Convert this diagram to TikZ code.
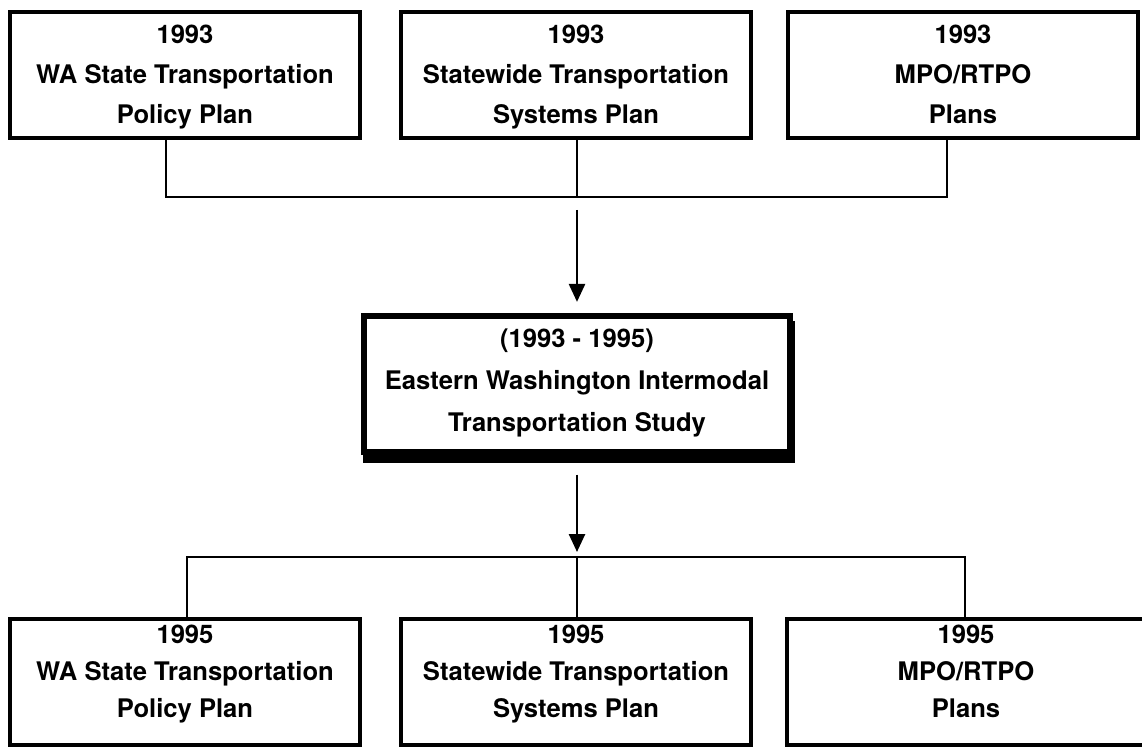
\documentclass[tikz,border=0pt]{standalone}
\usepackage{fontspec}
\setmainfont{TeX Gyre Heros}
\usetikzlibrary{arrows.meta,positioning,calc,shadows}

\begin{document}
\begin{tikzpicture}[
            x=0.5pt,y=-0.5pt,
            >={Triangle[length=9pt,width=8pt]},
            planbox/.style={draw,line width=2.4pt,fill=white,minimum width=175pt,minimum height=63pt,
                inner sep=0pt,align=center,font=\fontsize{12.8}{20}\selectfont\bfseries,text depth=1pt},
            newrow/.style={font=\fontsize{12.8}{18.5}\selectfont\bfseries,text depth=11pt},
            studybox/.style={draw,line width=2.6pt,fill=white,minimum width=213pt,minimum height=68pt,
                inner sep=0pt,align=center,font=\fontsize{12.8}{21}\selectfont\bfseries,text depth=4pt,
                copy shadow={shadow xshift=1pt,shadow yshift=-4pt,fill=black,draw=black}},
            link/.style={line width=1.3pt},
            flow/.style={->,line width=1.3pt}
        ]

        % Page frame
        \useasboundingbox (0,0) rectangle (1142,749);

        % The 1993 plans
        \node[planbox] (policyOld) at (185,75) {1993\\WA State Transportation\\Policy Plan};
        \node[planbox] (systemsOld) at (576,75) {1993\\Statewide Transportation\\Systems Plan};
        \node[planbox] (mpoOld) at (963,75) {1993\\MPO/RTPO\\Plans};

        % The study
        \node[studybox] (study) at (577,384) {(1993 - 1995)\\Eastern Washington Intermodal\\Transportation Study};

        % The 1995 plans
        \node[planbox,newrow] (policyNew) at (185,682) {1995\\WA State Transportation\\Policy Plan};
        \node[planbox,newrow] (systemsNew) at (576,682) {1995\\Statewide Transportation\\Systems Plan};
        \node[planbox,newrow,minimum width=179pt] (mpoNew) at (966,682) {1995\\MPO/RTPO\\Plans};

        % Collector above the study
        \coordinate (busTopL) at (166,197);
        \coordinate (busTopM) at (577,197);
        \coordinate (busTopR) at (947,197);
        \draw[link] (busTopL |- policyOld.south) -- (busTopL) -- (busTopR) -- (busTopR |- mpoOld.south);
        \draw[link] (busTopM |- systemsOld.south) -- (busTopM);
        \draw[flow] ([yshift=-6.5pt]busTopM) -- ([yshift=5.75pt]study.north);

        % Collector below the study
        \coordinate (busBotL) at (187,557);
        \coordinate (busBotM) at (577,557);
        \coordinate (busBotR) at (965,557);
        \draw[flow] ([yshift=-10pt]study.south) -- ([yshift=2.5pt]busBotM);
        \draw[link] (busBotL |- policyNew.north) -- (busBotL) -- (busBotR) -- (busBotR |- mpoNew.north);
        \draw[link] (busBotM) -- (busBotM |- systemsNew.north);

        \end{tikzpicture}
\end{document}
